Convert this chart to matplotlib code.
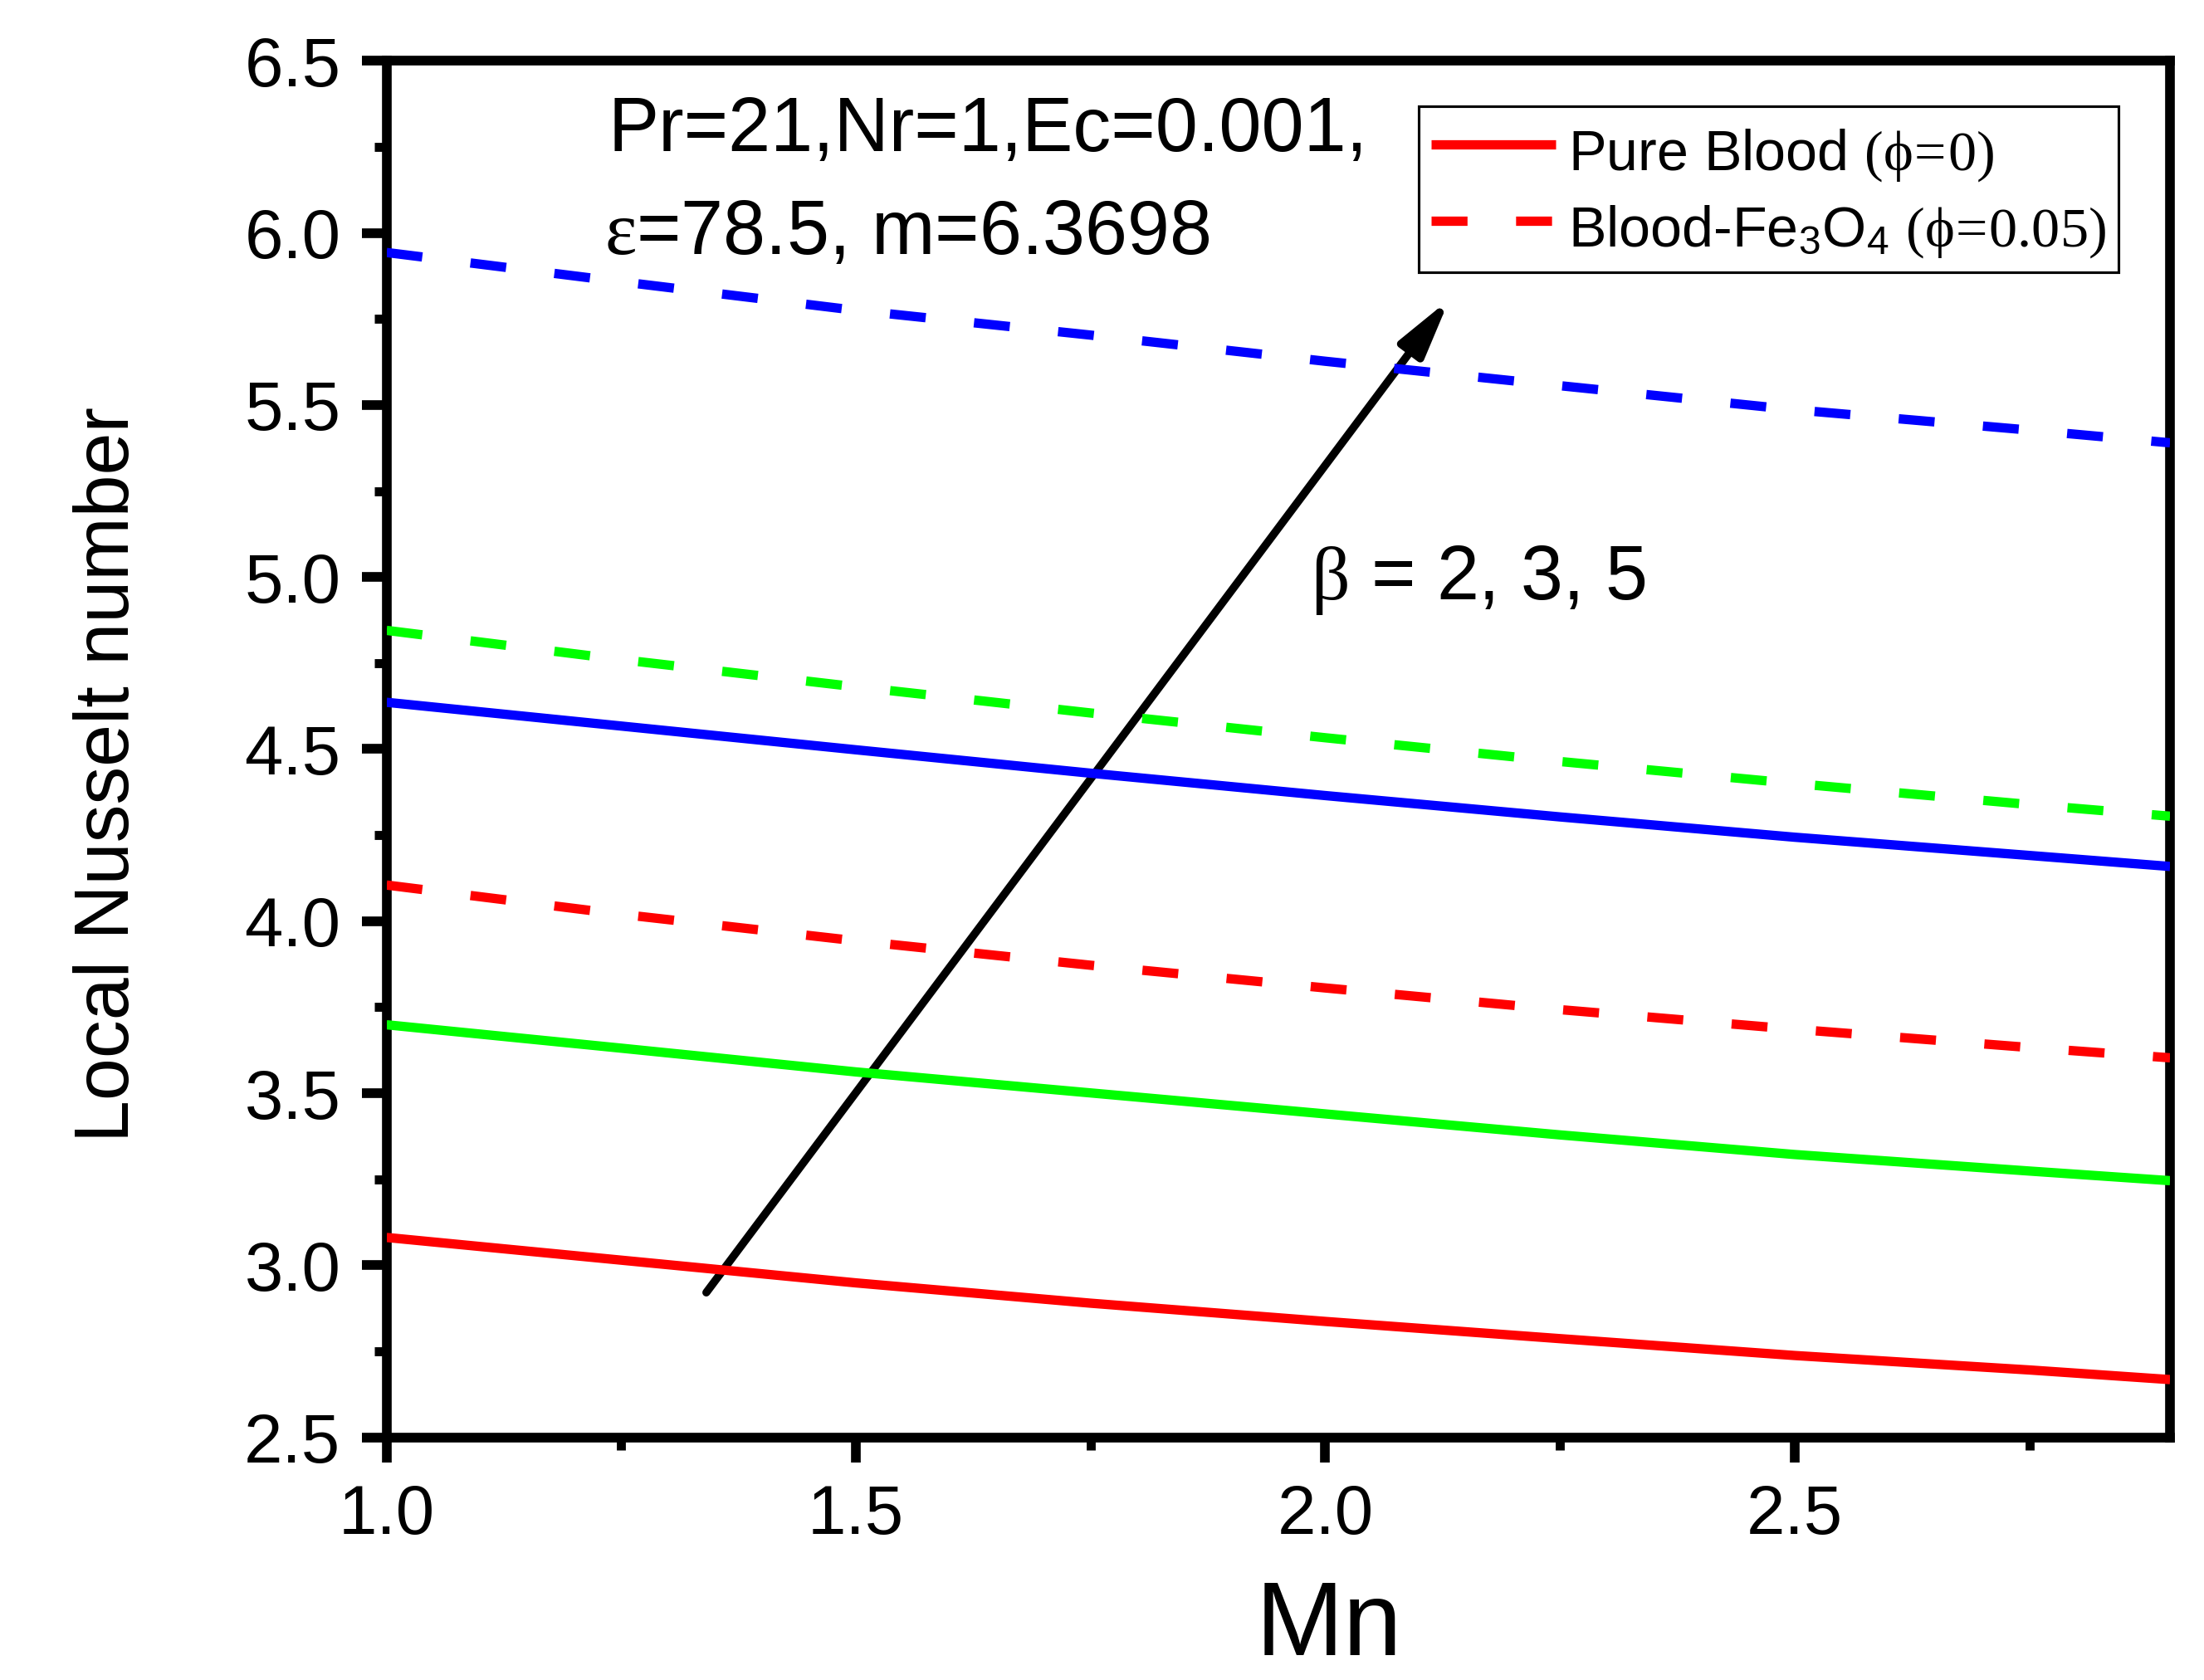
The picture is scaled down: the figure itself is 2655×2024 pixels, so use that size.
import matplotlib
matplotlib.use('Agg')
import matplotlib.pyplot as plt
from matplotlib.ticker import MultipleLocator, FormatStrFormatter

plt.rcParams['font.family'] = ['Liberation Sans', 'DejaVu Sans']
plt.rcParams['mathtext.fontset'] = 'custom'
plt.rcParams['mathtext.rm'] = 'Liberation Serif'
plt.rcParams['mathtext.sf'] = 'Liberation Sans'
plt.rcParams['mathtext.it'] = 'Liberation Serif:italic'

# ---------------- data ----------------
mn = [1.0, 1.25, 1.5, 1.75, 2.0, 2.25, 2.5, 2.75, 2.9]

# Pure blood (phi = 0), solid lines
pure_beta2 = [3.081, 3.015, 2.949, 2.890, 2.837, 2.787, 2.738, 2.696, 2.668]
pure_beta3 = [3.699, 3.631, 3.562, 3.501, 3.440, 3.379, 3.322, 3.274, 3.246]
pure_beta5 = [4.636, 4.567, 4.498, 4.430, 4.365, 4.303, 4.244, 4.191, 4.159]

# Blood-Fe3O4 (phi = 0.05), dashed lines
nano_beta2 = [4.105, 4.020, 3.943, 3.872, 3.806, 3.743, 3.686, 3.633, 3.603]
nano_beta3 = [4.845, 4.760, 4.681, 4.605, 4.533, 4.464, 4.400, 4.339, 4.305]
nano_beta5 = [5.943, 5.858, 5.775, 5.703, 5.627, 5.556, 5.486, 5.427, 5.390]

beta_colors = ['#ff0000', '#00ff00', '#0000ff']

x_ticks = [1.0, 1.5, 2.0, 2.5]
y_ticks = [2.5, 3.0, 3.5, 4.0, 4.5, 5.0, 5.5, 6.0, 6.5]

legend_labels = ['Pure Blood $\\mathrm{(\\phi\\!=\\!0)}$',
                 'Blood-Fe$_\\mathsf{3}$O$_\\mathsf{4}$ $\\mathrm{(\\phi\\!=\\!0.05)}$']

param_line1 = 'Pr=21,Nr=1,Ec=0.001,'
param_line2 = '$\\mathrm{\\varepsilon}$=78.5, m=6.3698'
beta_text = '$\\mathrm{\\beta}$ = 2, 3, 5'

arrow_tail = (1.3406, 2.921)
arrow_head = (2.1323, 5.807)

# ---------------- figure ----------------
fig = plt.figure(figsize=(8.85, 6.7467), dpi=300)
ax = fig.add_axes([0.1754, 0.1444, 0.8092, 0.8194])

lw = 2.7
dash = (0, (3.85, 5.2))

ax.annotate('', xy=arrow_head, xytext=arrow_tail,
            arrowprops=dict(arrowstyle='-|>,head_length=14.0,head_width=3.5',
                            mutation_scale=1, lw=2.3, color='black',
                            shrinkA=0, shrinkB=0, joinstyle='round'),
            zorder=1)

series_pure = [pure_beta2, pure_beta3, pure_beta5]
series_nano = [nano_beta2, nano_beta3, nano_beta5]
for i, (ys, c) in enumerate(zip(series_pure, beta_colors)):
    ax.plot(mn, ys, color=c, lw=lw, ls='-', solid_capstyle='butt',
            label=legend_labels[0] if i == 0 else None, zorder=3)
for i, (ys, c) in enumerate(zip(series_nano, beta_colors)):
    ax.plot(mn, ys, color=c, lw=lw, ls=dash, dash_capstyle='butt',
            label=legend_labels[1] if i == 0 else None, zorder=3)

ax.set_xlim(1.0, 2.9)
ax.set_ylim(2.5, 6.5)
ax.set_xticks(x_ticks)
ax.set_yticks(y_ticks)
ax.xaxis.set_minor_locator(MultipleLocator(0.25))
ax.yaxis.set_minor_locator(MultipleLocator(0.25))
ax.xaxis.set_major_formatter(FormatStrFormatter('%.1f'))
ax.yaxis.set_major_formatter(FormatStrFormatter('%.1f'))

for sp in ax.spines.values():
    sp.set_linewidth(2.8)
    sp.set_color('black')

ax.tick_params(which='major', direction='out', length=7.1, width=2.8,
               pad=6.2, labelsize=20, top=False, right=False, colors='black')
ax.tick_params(which='minor', direction='out', length=3.5, width=2.6,
               top=False, right=False)

ax.set_ylabel('Local Nusselt number', fontsize=22)
ax.yaxis.set_label_coords(-0.1358, 0.4816)
ax.set_xlabel('Mn', fontsize=30.5)
ax.xaxis.set_label_coords(0.5285, -0.1027)

ax.text(1.2362, 6.238, param_line1, fontsize=22, ha='left', va='baseline')
ax.text(1.2322, 5.9375, param_line2, fontsize=22, ha='left', va='baseline')
ax.text(1.9845, 4.935, beta_text, fontsize=22, ha='left', va='baseline')

leg = ax.legend(loc='upper left', bbox_to_anchor=(0.5786, 0.967),
                borderaxespad=0, fontsize=16.4, frameon=True, fancybox=False,
                edgecolor='black', framealpha=1, handlelength=2.2,
                handleheight=1.38, handletextpad=0.22, borderpad=0.22,
                labelspacing=0.2)
leg.get_frame().set_linewidth(0.75)

fig.savefig('out.png', dpi=300, facecolor='white')
